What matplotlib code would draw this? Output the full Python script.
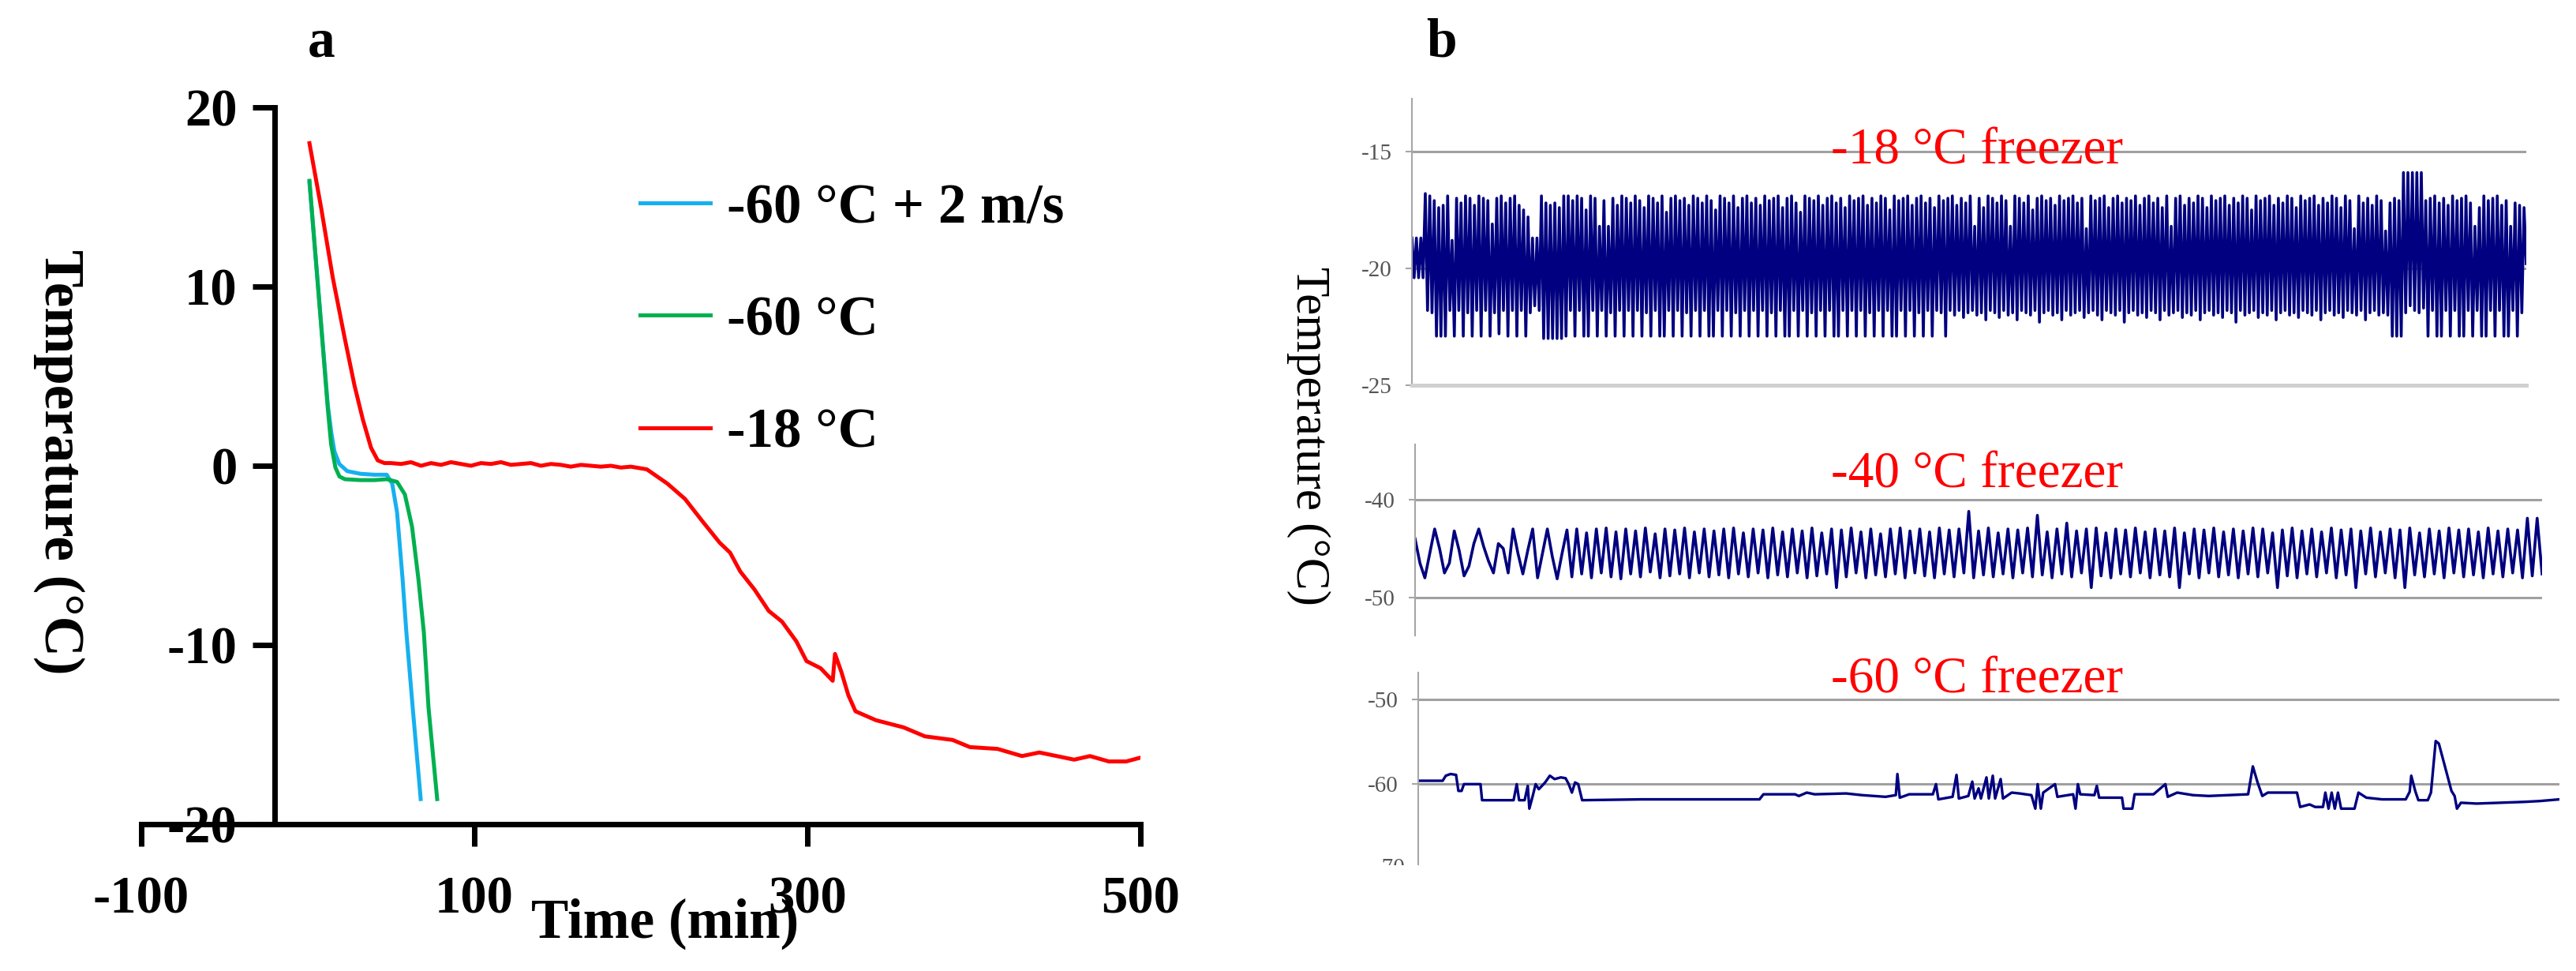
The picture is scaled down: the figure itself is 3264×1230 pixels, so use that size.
import numpy as np
import matplotlib
matplotlib.use("Agg")
import matplotlib.pyplot as plt
from matplotlib.transforms import Bbox, TransformedBbox

plt.rcParams['font.family'] = ['Liberation Serif', 'DejaVu Serif']
plt.rcParams['axes.unicode_minus'] = False

# ---- panel a: freezing curves (time in min, temperature in degC) ----
t_red = [1, 8, 15, 22, 28, 33, 38, 42, 46, 50, 56, 62, 68, 74, 80, 86, 92, 98, 104,
         110, 116, 122, 128, 134, 140, 146, 152, 158, 164, 170, 176, 182, 188, 194, 203.6,
         216, 226.5, 237, 247.4, 253.6, 259.7, 268.2, 276.8, 284.8, 293.4, 299.5, 308,
         315.2, 316.6, 320.4, 324.6, 328.9, 341.2, 357.8, 370.6, 387.2, 397.6, 414.2,
         428.9, 439.3, 449.8, 460.2, 469.7, 481, 491.5, 499.5]
T_red = [18.0, 14.4, 10.5, 7.2, 4.5, 2.6, 1.0, 0.3, 0.15, 0.15, 0.1, 0.2, 0.0, 0.15, 0.05, 0.2,
         0.1, 0.0, 0.15, 0.1, 0.2, 0.05, 0.1, 0.15, 0.0, 0.1, 0.05, -0.05, 0.05, 0.0, -0.05,
         0.0, -0.1, -0.05, -0.2, -1.0, -1.85, -3.1, -4.3, -4.85, -5.9, -6.9, -8.1, -8.7,
         -9.8, -10.9, -11.3, -12.0, -10.5, -11.5, -12.8, -13.7, -14.2, -14.6, -15.1, -15.3,
         -15.7, -15.8, -16.2, -16.0, -16.2, -16.4, -16.2, -16.5, -16.5, -16.3]

t_blue = [1, 5, 9, 12, 14.2, 16, 18.9, 23.7, 31.7, 40, 47.4, 50.7, 53.6, 56.9, 59.2, 63.0, 67.8]
T_blue = [15.8, 11.3, 6.8, 3.4, 1.8, 0.8, 0.1, -0.3, -0.45, -0.5, -0.5, -1.0, -2.6, -6.3,
          -9.3, -13.5, -18.6]

t_green = [1, 5, 9, 12, 14, 16.6, 19, 22.3, 31.7, 40, 47.4, 53.6, 58.3, 62.6, 66.4,
           69.7, 72.5, 77.7]
T_green = [15.9, 11.3, 6.7, 3.2, 1.2, -0.1, -0.6, -0.75, -0.8, -0.8, -0.75, -0.9, -1.6, -3.4,
           -6.3, -9.3, -13.5, -18.6]

labels_a = ['-60 \u00b0C + 2 m/s', '-60 \u00b0C', '-18 \u00b0C']

# ---- panel b: freezer logs ----
# -18 freezer: successive highs and lows of the compressor cycling
hi18 = [-18.7, -18.7, -18.7, -16.8, -16.9, -17.1, -17.4, -17.3, -16.9, -18.8, -17.0, -17.2, -16.9, -17.0, -17.3, -16.9, -17.0, -17.1, -18.1, -17.0, -16.9, -17.2, -17.0, -16.9, -17.3,
        -17.5, -17.8, -18.7, -18.7, -16.9, -17.2, -17.3, -17.2, -17.4, -16.9, -16.9, -17.1, -16.9, -17.0, -17.5, -16.9, -17.0, -18.2, -17.1, -18.2, -17.0, -17.3, -16.9, -17.0, -17.2,
        -16.9, -17.1, -17.4, -16.9, -17.0, -17.2, -16.9, -17.6, -17.0, -16.9, -17.1, -17.0, -17.3, -16.9, -17.0, -17.2, -16.9, -17.1, -17.5, -16.9, -17.0, -17.2, -16.9, -17.4, -17.0,
        -16.9, -17.2, -17.0, -17.3, -16.9, -17.1, -17.0, -16.9, -17.4, -17.0, -16.9, -17.2, -17.6, -16.9, -17.0, -17.1, -16.9, -17.3, -17.0, -16.9, -17.2, -17.0, -17.4, -16.9, -17.1,
        -17.0, -16.9, -17.3, -17.0, -17.2, -16.9, -17.0, -17.5, -16.9, -17.1, -17.0, -16.9, -17.3, -17.0, -16.9, -17.2, -17.0, -17.4, -16.9, -17.1, -17.0, -16.9, -17.3, -17.0, -17.2,
        -16.9, -18.2, -17.0, -17.4, -16.9, -17.0, -17.2, -16.9, -17.1, -18.2, -16.9, -17.0, -17.2, -16.9, -17.5, -17.0, -16.9, -17.1, -17.0, -17.3, -16.9, -17.1, -17.0, -16.9, -17.2,
        -17.0, -18.3, -16.9, -17.1, -17.0, -16.9, -17.4, -17.0, -16.9, -17.2, -17.0, -17.1, -16.9, -17.3, -17.0, -16.9, -17.2, -17.0, -17.4, -16.9, -18.2, -17.0, -16.9, -17.3, -17.0,
        -17.2, -16.9, -17.0, -17.4, -16.9, -17.1, -17.0, -16.9, -17.3, -17.0, -17.2, -16.9, -17.0, -17.5, -16.9, -17.1, -17.0, -16.9, -17.3, -17.0, -17.2, -16.9, -17.0, -17.4, -16.9,
        -17.1, -17.0, -16.9, -17.3, -17.0, -17.2, -16.9, -17.0, -17.4, -16.9, -17.1, -18.3, -16.9, -17.2, -17.0, -17.3, -16.9, -17.1, -18.4, -17.2, -17.0, -17.1, -15.9, -15.9, -15.9,
        -15.9, -15.9, -17.1, -17.0, -16.9, -17.2, -17.0, -17.3, -16.9, -17.1, -17.0, -16.9, -17.2, -18.2, -17.4, -16.9, -17.1, -17.0, -16.9, -17.3, -17.1, -18.2, -17.2, -17.3, -17.4]
lo18 = [-20.4, -20.4, -20.4, -21.8, -21.9, -22.9, -22.9, -22.9, -21.8, -22.9, -21.8, -22.9, -21.9, -22.9, -21.8, -22.9, -21.8, -22.9, -21.9, -22.8, -21.8, -22.9, -21.8, -22.9, -21.8,
        -22.9, -21.9, -21.6, -21.8, -23.0, -23.0, -23.0, -23.0, -23.0, -22.9, -21.8, -22.9, -21.8, -22.9, -22.9, -21.8, -22.9, -21.8, -22.9, -21.9, -22.9, -21.8, -22.9, -21.8, -22.9,
        -21.8, -22.9, -21.9, -22.9, -21.8, -22.9, -22.9, -21.8, -22.9, -21.8, -22.9, -21.9, -22.9, -21.8, -22.9, -21.8, -22.9, -22.9, -21.8, -22.9, -21.8, -22.9, -21.9, -22.9, -21.8,
        -22.9, -21.8, -22.9, -21.8, -22.9, -21.9, -22.9, -21.8, -22.9, -22.9, -21.8, -22.9, -21.8, -22.9, -21.9, -22.9, -21.8, -22.9, -21.8, -22.9, -22.9, -21.8, -22.9, -21.8, -22.9,
        -21.8, -22.9, -21.9, -22.9, -21.8, -22.9, -21.8, -22.9, -22.9, -21.8, -22.9, -21.8, -22.9, -21.9, -22.9, -21.8, -22.9, -21.8, -21.9, -22.9, -21.8, -22.0, -21.8, -22.1, -21.9,
        -21.8, -22.0, -21.9, -22.2, -21.8, -21.9, -22.1, -21.8, -22.0, -21.9, -22.2, -21.8, -21.9, -22.0, -21.8, -22.3, -21.9, -21.8, -22.0, -21.9, -22.2, -21.8, -22.0, -21.9, -21.8,
        -22.1, -21.9, -21.8, -22.0, -22.2, -21.8, -21.9, -22.0, -21.8, -22.3, -21.9, -21.8, -22.0, -21.9, -22.1, -21.8, -21.9, -22.2, -21.8, -22.0, -21.9, -21.8, -22.1, -21.9, -22.0,
        -21.8, -22.2, -21.9, -21.8, -22.0, -21.9, -22.1, -21.8, -21.9, -22.3, -21.8, -22.0, -21.9, -21.8, -22.1, -21.9, -22.0, -21.8, -22.2, -21.9, -21.8, -22.0, -21.9, -22.1, -21.8,
        -21.9, -22.0, -21.8, -22.2, -21.9, -21.8, -22.0, -21.9, -22.1, -21.8, -21.9, -22.0, -21.8, -22.2, -21.9, -21.8, -22.0, -21.9, -22.0, -22.9, -22.9, -22.9, -21.9, -21.6, -21.8,
        -21.9, -21.7, -22.9, -21.8, -22.9, -22.9, -21.8, -22.9, -21.8, -22.9, -22.9, -21.8, -22.9, -21.8, -22.9, -22.9, -21.8, -22.9, -21.8, -22.9, -22.9, -21.8, -22.9, -21.9, -19.8]

# -40 freezer: slow first cycles, then successive peaks / troughs
start40 = [-44.0, -46.5, -48.0, -45.5, -43.0, -45.0, -47.5, -46.5, -43.2, -45.2, -47.8,
           -46.8, -44.5, -43.0, -44.8, -46.3, -47.5, -44.5, -45.0, -47.5, -43.0, -45.5,
           -47.6, -45.2, -43.0, -48.0, -45.5, -43.0, -45.8, -48.1, -45.5]
hi40 = [-43.1, -43.0, -43.4, -43.0, -42.9, -43.3, -43.0, -43.2, -42.9, -43.5, -43.0, -43.1, -42.9, -43.3, -43.0, -43.2, -43.0, -42.9, -43.4, -43.0,
        -43.1, -42.9, -43.3, -43.0, -43.2, -42.9, -43.4, -43.0, -43.1, -42.9, -43.3, -43.0, -43.5, -43.0, -42.9, -43.2, -43.0, -43.3, -42.9, -43.1,
        -43.0, -41.2, -43.2, -42.9, -43.4, -43.0, -43.1, -42.9, -41.6, -43.3, -43.0, -42.4, -43.2, -43.0, -42.9, -43.4, -43.0, -43.1, -42.9, -43.3,
        -43.0, -43.2, -42.9, -43.4, -43.0, -43.1, -42.9, -43.3, -43.0, -43.2, -42.9, -43.0, -43.4, -43.1, -42.9, -43.2, -43.0, -43.3, -42.9, -43.1,
        -43.0, -43.2, -42.9, -43.3, -43.0, -43.1, -42.9, -43.4, -43.0, -43.2, -42.9, -43.1, -43.0, -43.3, -42.9, -43.2, -43.0, -43.1, -41.9, -41.9]
lo40 = [-47.9, -47.6, -48.0, -47.5, -47.9, -48.1, -47.6, -47.9, -47.4, -48.0, -47.8, -47.6, -48.0, -47.5, -47.9, -47.7, -48.0, -47.6, -47.9, -47.5,
        -48.0, -47.7, -47.9, -47.5, -48.0, -47.8, -47.6, -49.0, -47.9, -47.5, -48.0, -47.7, -47.9, -47.6, -48.0, -47.5, -47.8, -48.0, -47.6, -47.9,
        -47.5, -48.0, -47.7, -47.9, -47.6, -48.0, -47.5, -47.9, -47.7, -48.0, -47.6, -47.9, -47.5, -49.0, -47.8, -48.0, -47.6, -47.9, -47.5, -48.0,
        -47.7, -47.9, -49.0, -47.6, -48.0, -47.5, -47.9, -47.7, -48.0, -47.6, -47.9, -47.5, -49.0, -47.8, -48.0, -47.6, -47.9, -47.5, -48.0, -47.7,
        -49.0, -47.6, -47.9, -47.5, -48.0, -49.0, -47.7, -47.9, -47.6, -48.0, -47.5, -47.9, -47.7, -48.0, -47.6, -47.9, -47.5, -48.0, -47.8, -47.6]

# -60 freezer: logged time (arbitrary units) and temperature
t60 = [0, 31, 35, 41, 48, 51, 55, 58, 79, 81, 121, 125, 128, 135, 139, 141, 145, 149, 153, 161,
       167, 173, 181, 187, 191, 195, 199, 203, 208, 283, 353, 433, 438, 478, 483, 493, 503, 543,
       563, 593, 606, 608, 611, 623, 653, 657, 660, 678, 683, 686, 698, 703, 706, 711, 714, 721,
       724, 729, 732, 739, 742, 753, 763, 778, 783, 786, 790, 793, 808, 811, 831, 834, 837, 840,
       858, 861, 864, 893, 895, 906, 909, 933, 948, 951, 963, 983, 1003, 1053, 1059, 1065, 1071,
       1078, 1103, 1115, 1119, 1131, 1138, 1148, 1151, 1155, 1159, 1163, 1167, 1171, 1188, 1193,
       1203, 1223, 1253, 1258, 1260, 1265, 1269, 1281, 1285, 1291, 1295, 1303, 1311, 1315, 1318,
       1323, 1343, 1373, 1403, 1423, 1448]
v60 = [-59.6, -59.6, -59.0, -58.8, -58.9, -60.8, -60.8, -60.0, -60.0, -61.9, -61.9, -60.0,
       -61.9, -61.9, -60.2, -62.9, -61.5, -60.0, -60.6, -59.8, -59.0, -59.4, -59.2, -59.3,
       -60.0, -61.0, -59.8, -60.0, -61.9, -61.8, -61.8, -61.8, -61.2, -61.2, -61.4, -61.0,
       -61.2, -61.1, -61.3, -61.5, -61.3, -58.8, -61.6, -61.2, -61.2, -60.0, -61.8, -61.5,
       -58.9, -61.7, -61.4, -59.7, -61.7, -60.5, -61.7, -59.2, -61.7, -59.0, -61.7, -59.4,
       -61.7, -61.0, -61.1, -61.3, -62.9, -60.0, -62.9, -61.0, -60.0, -61.5, -61.2, -62.9,
       -60.0, -61.2, -61.3, -60.2, -61.6, -61.6, -62.9, -62.9, -61.2, -61.2, -60.0, -61.5,
       -61.0, -61.3, -61.4, -61.2, -57.9, -59.8, -61.4, -61.0, -61.0, -61.0, -62.7, -62.4,
       -62.7, -62.7, -61.0, -62.9, -61.0, -62.9, -61.0, -62.9, -62.9, -61.0, -61.6, -61.8,
       -61.8, -60.9, -59.0, -60.8, -61.9, -61.9, -61.0, -54.9, -55.2, -58.0, -60.8, -61.4,
       -62.9, -62.2, -62.3, -62.2, -62.1, -62.0, -61.8]

titles_b = ['-18 \u00b0C freezer', '-40 \u00b0C freezer', '-60 \u00b0C freezer']
ticks_b = [[-15, -20, -25], [-40, -50], [-50, -60]]

W, H = 3264, 1230
fig = plt.figure(figsize=(W / 100, H / 100), dpi=100)

# ================= panel a =================
ax = fig.add_axes([179 / W, 1 - 1044 / H, (1445 - 179) / W, (1044 - 136) / H])
l_blue, = ax.plot(t_blue, T_blue, color='#16b0f0', lw=3.6, label=labels_a[0])
l_green, = ax.plot(t_green, T_green, color='#00b050', lw=3.6, label=labels_a[1])
l_red, = ax.plot(t_red, T_red, color='#ff0000', lw=3.6, label=labels_a[2])
ax.set_xlim(-100, 500)
ax.set_ylim(-20, 20)
ax.set_xticks([-100, 100, 300, 500])
ax.set_yticks([20, 10, 0, -10, -20])
ax.spines['left'].set_position(('data', -20))
ax.spines['top'].set_visible(False)
ax.spines['right'].set_visible(False)
for s in ['left', 'bottom']:
    ax.spines[s].set_linewidth(5)
ax.tick_params(length=20, width=5, labelsize=48)
ax.tick_params(axis='y', pad=14)
ax.tick_params(axis='x', pad=27)
for lab in ax.get_xticklabels() + ax.get_yticklabels():
    lab.set_fontweight('bold')

ax.legend(handles=[l_blue, l_green, l_red], loc='upper left',
          bbox_to_anchor=(811 / W, 1 - 232 / H), bbox_transform=fig.transFigure,
          frameon=False, prop={'size': 51, 'weight': 'bold'},
          handlelength=1.25, handletextpad=0.3, labelspacing=1.09,
          borderpad=0, borderaxespad=0)

fig.text(843 / W, 1 - 1170 / H, 'Time (min)', fontsize=51, fontweight='bold',
         ha='center', va='center')
fig.text(75 / W, 1 - 585 / H, 'Temperature (\u00b0C)', fontsize=51, fontweight='bold',
         ha='center', va='center', rotation=270)
fig.text(407 / W, 1 - 55 / H, 'a', fontsize=50, fontweight='bold', ha='center', va='center')

# ================= panel b =================
boxes = [(1789, 3201, 125, 488), (1793, 3221, 563, 805), (1797, 3243, 852, 1095)]
ylims = [(-25, -12.74), (-53.9, -34.35), (-69.5, -46.8)]
title_base = [208, 617, 878]
axes_b = []
for i, (x0, x1, y0, y1) in enumerate(boxes):
    a = fig.add_axes([x0 / W, 1 - y1 / H, (x1 - x0) / W, (y1 - y0) / H])
    a.set_ylim(*ylims[i])
    a.set_yticks(ticks_b[i])
    a.set_xticks([])
    for s in ['top', 'right']:
        a.spines[s].set_visible(False)
    a.spines['left'].set_color('#a6a6a6')
    a.spines['left'].set_linewidth(1.5)
    if i == 0:
        a.spines['bottom'].set_color('#d0d0d0')
        a.spines['bottom'].set_linewidth(3.6)
    else:
        a.spines['bottom'].set_visible(False)
    a.yaxis.grid(True, color='#a0a0a0', lw=2.2)
    a.set_axisbelow(True)
    a.tick_params(axis='y', length=6, width=1.5, color='#a6a6a6', labelsize=21,
                  labelcolor='#555555', pad=12)
    fig.text(2505 / W, 1 - title_base[i] / H, titles_b[i], fontsize=47, color='#ff0000',
             ha='center', va='baseline')
    axes_b.append(a)

y18 = np.column_stack([hi18, lo18]).ravel()
axes_b[0].plot(np.arange(len(y18)), y18, color='#000080', lw=2.6)
axes_b[0].set_xlim(0, len(y18) - 1)

y40 = np.concatenate([start40, np.column_stack([hi40, lo40]).ravel()])
axes_b[1].plot(np.arange(len(y40)), y40, color='#000080', lw=2.6)
axes_b[1].set_xlim(0, len(y40) - 1)

axes_b[2].plot(t60, v60, color='#000080', lw=2.4)
axes_b[2].set_xlim(0, t60[-1])

# the -70 label of the bottom log is cut off at the frame edge
a3 = axes_b[2]
t70 = a3.text(-0.0116, -70, '-70', transform=a3.get_yaxis_transform(), fontsize=21,
              color='#555555', ha='right', va='center')
clip = TransformedBbox(Bbox.from_extents(0.5, 1 - 1096 / H, 0.6, 1), fig.transFigure)
t70.set_clip_box(clip)
t70.set_clip_on(True)

fig.text(1658 / W, 1 - 552 / H, 'Temperature (\u00b0C)', fontsize=44,
         ha='center', va='center', rotation=270)
fig.text(1826 / W, 1 - 55 / H, 'b', fontsize=50, fontweight='bold', ha='center', va='center')

fig.savefig('out.png', dpi=100)
